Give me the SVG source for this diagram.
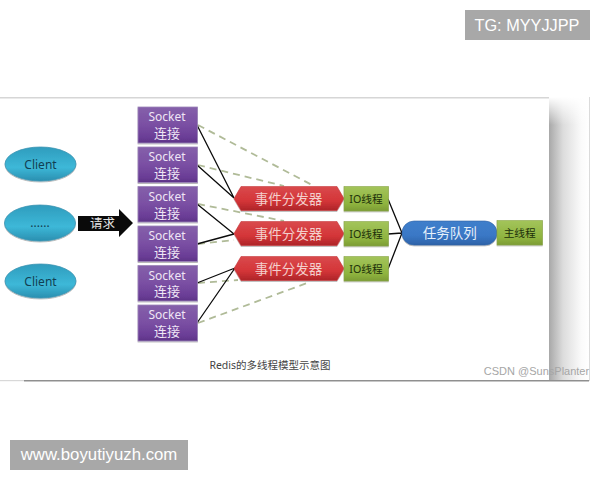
<svg xmlns="http://www.w3.org/2000/svg" width="600" height="480" viewBox="0 0 600 480">
<style>
.s{font-family:"Noto Sans","Noto Sans CJK SC",sans-serif;font-size:12px;fill:#efe6f5;text-anchor:middle}
.c{font-family:"Noto Sans CJK SC",sans-serif;font-size:13px;fill:#efe6f5;text-anchor:middle}
.cl{font-family:"Noto Sans",sans-serif;font-size:12px;fill:#123f52;text-anchor:middle}
.d{font-family:"Noto Sans CJK SC",sans-serif;font-size:13.500px;fill:#f3cfcc;text-anchor:middle}
.io{font-family:"Noto Sans","Noto Sans CJK SC",sans-serif;font-size:10.700px;fill:#20300a;text-anchor:middle}
.sock{fill:url(#pur);stroke:#9c86b8;stroke-width:.8;filter:url(#sh)}
.cli{fill:url(#cya);stroke:#3d94b2;stroke-width:.8;filter:url(#sh)}
.disp{fill:url(#red);stroke:#c83c40;stroke-width:.6;filter:url(#sh)}
.grn{fill:url(#gre);stroke:#8aa648;stroke-width:.6;filter:url(#sh)}
.k{stroke:#0b0b0b;stroke-width:1.300;fill:none}
.g{stroke:#b0bb98;stroke-width:1.800;stroke-dasharray:7 5;fill:none}
</style>
<defs>
<linearGradient id="pur" x1="0" y1="0" x2="0" y2="1"><stop offset="0" stop-color="#8560aa"/><stop offset=".5" stop-color="#7a4fa3"/><stop offset=".85" stop-color="#6a3d96"/><stop offset="1" stop-color="#5d3386"/></linearGradient>
<linearGradient id="cya" x1="0" y1="0" x2="0" y2="1"><stop offset="0" stop-color="#2f9cbd"/><stop offset=".6" stop-color="#3db8d8"/><stop offset="1" stop-color="#2a8fb0"/></linearGradient>
<linearGradient id="red" x1="0" y1="0" x2="0" y2="1"><stop offset="0" stop-color="#d94a4d"/><stop offset=".6" stop-color="#d43538"/><stop offset="1" stop-color="#ad2528"/></linearGradient>
<linearGradient id="gre" x1="0" y1="0" x2="0" y2="1"><stop offset="0" stop-color="#a3c45a"/><stop offset=".7" stop-color="#8fb43f"/><stop offset="1" stop-color="#7c9c34"/></linearGradient>
<linearGradient id="blu" x1="0" y1="0" x2="0" y2="1"><stop offset="0" stop-color="#3f7fcb"/><stop offset=".6" stop-color="#3a78c6"/><stop offset="1" stop-color="#2d62a8"/></linearGradient>
<linearGradient id="shade" x1="0" y1="0" x2="1" y2="0"><stop offset="0" stop-color="#a8a8a8"/><stop offset=".35" stop-color="#dcdcdc"/><stop offset=".8" stop-color="#fafafa"/><stop offset="1" stop-color="#fff"/></linearGradient>
<linearGradient id="top" x1="0" y1="0" x2="0" y2="1"><stop offset="0" stop-color="#fff"/><stop offset="1" stop-color="#fff" stop-opacity="0"/></linearGradient>
<filter id="sh" x="-10%" y="-10%" width="120%" height="125%"><feDropShadow dx="0" dy="1" stdDeviation=".7" flood-color="#000" flood-opacity=".3"/></filter>
</defs>
<rect width="600" height="480" fill="#fff"/>
<g id="frame">
<rect x="549" y="97" width="40" height="284" fill="url(#shade)"/>
<rect x="549" y="97" width="40" height="28" fill="url(#top)"/>
<rect x="589" y="97" width=".7" height="284" fill="#ccc"/>
<rect x="0" y="97" width="549" height="1.500" fill="#d6d6d6"/>
<rect x="24" y="380" width="565" height="1.500" fill="#8f8f8f"/>
<rect x="0" y="380" width="24" height="1.200" fill="#d8d8d8"/>
</g>
<g id="connectors">
<path class="g" d="M198 125L314 186M198 165L284 186M198 204L284 221M198 244L234 240M198 283L238 280M198 323L310 282"/>
<path class="k" d="M197 125L234 198M197 165L234 198M197 204L234 234M197 244L234 234M197 283L235 268M197 323L235 268"/>
<path class="k" d="M388 199L402 233M388 234L402 233M388 269L402 233"/>
</g>
<g id="client1"><ellipse class="cli" cx="40.500" cy="164" rx="35.500" ry="17"/><text class="cl" x="40.500" y="168.500">Client</text></g>
<g id="client2"><ellipse class="cli" cx="40" cy="223" rx="35.500" ry="18"/><text class="cl" x="40" y="227">......</text></g>
<g id="client3"><ellipse class="cli" cx="40.500" cy="281" rx="35.500" ry="17"/><text class="cl" x="40.500" y="285.500">Client</text></g>
<g id="request"><path d="M78 216H119V209L133 223L119 237V231H78Z" fill="#0a0a0a"/><text x="102.500" y="227.500" font-family="Noto Sans CJK SC,sans-serif" font-size="12.500" fill="#e4e4e4" text-anchor="middle">请求</text></g>
<g id="socket1"><rect class="sock" x="138" y="107" width="59.500" height="36"/><text class="s" x="167" y="121">Socket</text><text class="c" x="167" y="138">连接</text></g>
<g id="socket2"><rect class="sock" x="138" y="147" width="59.500" height="35.500"/><text class="s" x="167" y="161">Socket</text><text class="c" x="167" y="177.500">连接</text></g>
<g id="socket3"><rect class="sock" x="138" y="186.500" width="59.500" height="35.500"/><text class="s" x="167" y="201">Socket</text><text class="c" x="167" y="217.500">连接</text></g>
<g id="socket4"><rect class="sock" x="138" y="226" width="59.500" height="35.500"/><text class="s" x="167" y="240">Socket</text><text class="c" x="167" y="256.500">连接</text></g>
<g id="socket5"><rect class="sock" x="138" y="265.500" width="59.500" height="35.500"/><text class="s" x="167" y="279.500">Socket</text><text class="c" x="167" y="296">连接</text></g>
<g id="socket6"><rect class="sock" x="138" y="305" width="59.500" height="36"/><text class="s" x="167" y="319">Socket</text><text class="c" x="167" y="335.500">连接</text></g>
<g id="dispatcher1"><path class="disp" d="M241 186.500H337L344 198.500L337 210.500H241L234 198.500Z"/><text class="d" x="288.600" y="203.500">事件分发器</text></g>
<g id="dispatcher2"><path class="disp" d="M241 221.500H337L344 233.500L337 245.500H241L234 233.500Z"/><text class="d" x="288.600" y="238.500">事件分发器</text></g>
<g id="dispatcher3"><path class="disp" d="M241 256.500H337L344 268.500L337 280.500H241L234 268.500Z"/><text class="d" x="288.600" y="273.500">事件分发器</text></g>
<g id="io1"><rect class="grn" x="344" y="186.500" width="44.500" height="24.500"/><text class="io" x="366" y="203">IO线程</text></g>
<g id="io2"><rect class="grn" x="344" y="221.500" width="44.500" height="24.500"/><text class="io" x="366" y="238">IO线程</text></g>
<g id="io3"><rect class="grn" x="344" y="256.500" width="44.500" height="24.500"/><text class="io" x="366" y="273">IO线程</text></g>
<g id="queue"><rect x="402" y="221" width="95" height="24" rx="12" fill="url(#blu)" stroke="#2f63a6" stroke-width=".6" filter="url(#sh)"/><text x="449.700" y="238" font-family="Noto Sans CJK SC,sans-serif" font-size="13.500" fill="#e6f0fa" text-anchor="middle">任务队列</text></g>
<g id="main"><rect class="grn" x="497" y="220.500" width="45.500" height="24.500"/><text class="io" x="519.700" y="237">主线程</text></g>
<text x="270" y="369" font-family="Noto Sans,Noto Sans CJK SC,sans-serif" font-size="10.500" fill="#444" text-anchor="middle">Redis的多线程模型示意图</text>
<text x="536.500" y="375" font-family="Liberation Sans,sans-serif" font-size="11" fill="#a6a6a6" text-anchor="middle">CSDN @SunsPlanter</text>
<g id="wm1"><rect x="465" y="10" width="125" height="30" fill="#a8a8a8"/><text x="527" y="31" font-family="Liberation Sans,sans-serif" font-size="16.300" fill="#fff" text-anchor="middle">TG: MYYJJPP</text></g>
<g id="wm2"><rect x="10" y="440" width="178" height="30" fill="#a8a8a8"/><text x="99" y="460" font-family="Liberation Sans,sans-serif" font-size="16.800" fill="#fff" text-anchor="middle">www.boyutiyuzh.com</text></g>
</svg>
